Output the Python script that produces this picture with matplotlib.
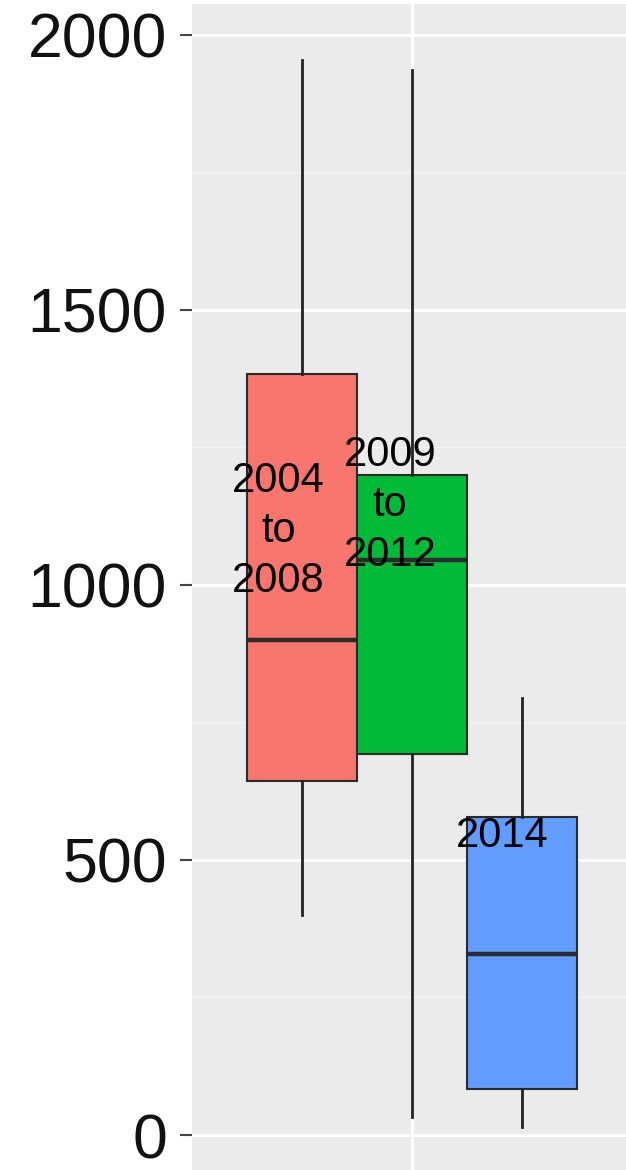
import matplotlib
matplotlib.use("Agg")
import matplotlib.pyplot as plt
import numpy as np

# box statistics
labels = ["2004\nto\n2008", "2009\nto\n2012", "2014"]
whislo = [400, 33, 15]
q1 = [644, 693, 84]
med = [900, 1045, 329]
q3 = [1384, 1200, 578]
whishi = [1955, 1936, 795]
colors = ["#F8766D", "#00BA38", "#619CFF"]
positions = [0.7, 1.0, 1.3]

# where the group labels sit
label_x = [0.635, 0.94, 1.245]
label_y = [1098, 1145, 544]

yticks = [0, 500, 1000, 1500, 2000]

plt.rcParams['font.family'] = ['Liberation Sans', 'DejaVu Sans']

fig = plt.figure(figsize=(6.26, 11.7), dpi=100)
ax = fig.add_axes([192 / 626, 0, 434 / 626, 1166 / 1170])
ax.set_facecolor("#EBEBEB")

stats = []
for i in range(3):
    stats.append(dict(whislo=whislo[i], q1=q1[i], med=med[i], q3=q3[i],
                      whishi=whishi[i], fliers=[]))

bp = ax.bxp(stats, positions=positions, widths=0.3, patch_artist=True,
            showcaps=False, manage_ticks=False,
            boxprops=dict(edgecolor="#2b2b2b", linewidth=1.5),
            whiskerprops=dict(color="#222222", linewidth=2.0),
            medianprops=dict(color="#2b2b2b", linewidth=3.2))
for patch, c in zip(bp['boxes'], colors):
    patch.set_facecolor(c)

for x, y, t in zip(label_x, label_y, labels):
    ax.text(x, y, t, ha="center", va="center", fontsize=30, color="black",
            linespacing=1.33, zorder=5)

ax.set_xlim(0.4, 0.4 + 434 / 367)
ax.set_ylim(-63.6, 2056)
ax.set_yticks(yticks)
ax.set_yticks([250, 750, 1250, 1750], minor=True)
ax.set_xticks([1.0])
ax.set_xticklabels([])
ax.grid(True, which="major", color="white", linewidth=2.2, zorder=0)
ax.grid(True, which="minor", axis="y", color="#F3F3F3", linewidth=1.0, zorder=0)
ax.set_axisbelow(True)
ax.tick_params(axis="y", which="major", labelsize=45, length=9, width=1.5,
               color="#444444", labelcolor="#111111", pad=9)
ax.tick_params(axis="y", which="minor", length=0)
ax.tick_params(axis="x", length=0)
for s in ax.spines.values():
    s.set_visible(False)

fig.savefig("out.png", dpi=100)
